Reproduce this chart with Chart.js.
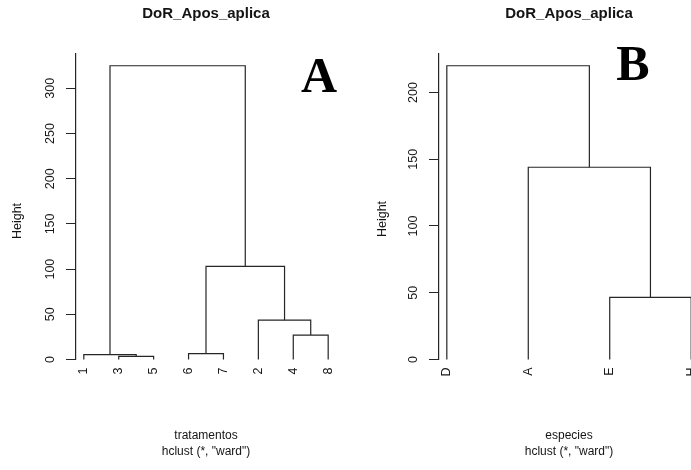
<!DOCTYPE html>
<html>
<head>
<meta charset="utf-8">
<script src="https://cdn.jsdelivr.net/npm/chart.js@4.4.1/dist/chart.umd.min.js"></script>
<style>
  html, body { margin: 0; padding: 0; background: #fff; width: 691px; height: 470px; overflow: hidden; position: relative; }
  .panel { position: absolute; top: 0; width: 363px; height: 470px; }
</style>
</head>
<body>
<div class="panel" style="left:0"><canvas id="chartA" width="363" height="470"></canvas></div>
<div class="panel" style="left:363px"><canvas id="chartB" width="363" height="470"></canvas></div>
<script>
// Panel A: treatments, leaves listed in dendrogram order
const leavesA = ['1', '3', '5', '6', '7', '2', '4', '8'];
// merge steps: negative = leaf position in leavesA, positive = earlier merge step
const mergesA = [[-2, -3], [-1, 1], [-4, -5], [-7, -8], [-6, 4], [3, 5], [2, 6]];
const heightsA = [3.5, 5.5, 6.5, 27, 43.5, 103, 325];

// Panel B: species
const leavesB = ['D', 'A', 'E', 'H'];
const mergesB = [[-3, -4], [-2, 1], [-1, 2]];
const heightsB = [46.5, 144, 220];

const mainTitle = 'DoR_Apos_aplica';
const subTitle = 'hclust (*, "ward")';
const yTitle = 'Height';

const SANS = '"Liberation Sans", Arial, Helvetica, sans-serif';
const INK = '#141414';
const LINE = '#262626';

// main title, y-axis label and panel letter
const panelText = {
  id: 'panelText',
  afterDraw(chart, args, opts) {
    const { ctx, chartArea } = chart;
    ctx.save();
    ctx.fillStyle = INK;
    ctx.textAlign = 'center';
    ctx.textBaseline = 'middle';
    ctx.font = 'bold 15px ' + SANS;
    ctx.fillText(opts.title, (chartArea.left + chartArea.right) / 2, opts.titleY);

    ctx.save();
    ctx.font = '12.5px ' + SANS;
    ctx.translate(opts.yTitleX, opts.yTitleY);
    ctx.rotate(-Math.PI / 2);
    ctx.fillText(yTitle, 0, 0);
    ctx.restore();

    ctx.fillStyle = '#000';
    ctx.textBaseline = 'alphabetic';
    ctx.font = 'bold 50px "Liberation Serif", "Times New Roman", serif';
    ctx.fillText(opts.tag, opts.tagX, opts.tagY);
    ctx.restore();
  }
};

function dendrogram(canvasId, leaves, merges, heights, xTitle, text) {
  const n = leaves.length;
  const nodes = [];
  const at = (ref) => ref < 0 ? { x: -ref, y: 0 } : nodes[ref - 1];
  const datasets = merges.map((m, i) => {
    const a = at(m[0]), b = at(m[1]);
    const h = heights[i];
    nodes.push({ x: (a.x + b.x) / 2, y: h });
    return {
      data: [{ x: a.x, y: a.y }, { x: a.x, y: h }, { x: b.x, y: h }, { x: b.x, y: b.y }],
      showLine: true,
      borderColor: LINE,
      borderWidth: 1.2,
      pointRadius: 0,
      pointHoverRadius: 0,
      tension: 0,
      fill: false,
      clip: false
    };
  });
  const top = heights[heights.length - 1] * 1.04;
  const pad = 0.032 * (n - 1);

  return new Chart(document.getElementById(canvasId), {
    type: 'scatter',
    data: { datasets },
    plugins: [panelText],
    options: {
      responsive: false,
      animation: false,
      events: [],
      layout: { padding: { top: 54, right: 27, bottom: 0, left: 0 } },
      plugins: {
        legend: { display: false },
        tooltip: { enabled: false },
        panelText: Object.assign({ title: mainTitle }, text)
      },
      scales: {
        x: {
          type: 'linear',
          min: 1 - pad,
          max: n + pad,
          afterBuildTicks: (s) => { s.ticks = leaves.map((_, i) => ({ value: i + 1 })); },
          afterFit: (s) => { s.height = 110.5; },
          grid: { display: false, drawTicks: false },
          border: { display: false },
          ticks: {
            autoSkip: false,
            minRotation: 90,
            maxRotation: 90,
            padding: 8,
            color: INK,
            font: { family: SANS, size: 12.5 },
            callback: (v) => leaves[Math.round(v) - 1]
          },
          title: {
            display: true,
            text: [xTitle, subTitle],
            color: INK,
            font: { family: SANS, size: 12, lineHeight: 1.35 },
            padding: { top: 0, bottom: 10 }
          }
        },
        y: {
          type: 'linear',
          min: 0,
          max: top,
          afterFit: (s) => { s.width = 76; },
          grid: { drawOnChartArea: false, drawTicks: true, tickLength: 10, color: LINE, lineWidth: 1 },
          border: { display: true, color: LINE, width: 1.2 },
          ticks: {
            stepSize: 50,
            includeBounds: false,
            minRotation: 90,
            maxRotation: 90,
            crossAlign: 'center',
            padding: 5,
            color: INK,
            font: { family: SANS, size: 12.5 }
          }
        }
      }
    }
  });
}

dendrogram('chartA', leavesA, mergesA, heightsA, 'tratamentos',
  { tag: 'A', tagX: 319, tagY: 92, titleY: 14, yTitleX: 18, yTitleY: 221 });
dendrogram('chartB', leavesB, mergesB, heightsB, 'especies',
  { tag: 'B', tagX: 270, tagY: 80, titleY: 14, yTitleX: 20, yTitleY: 219 });
</script>
</body>
</html>
